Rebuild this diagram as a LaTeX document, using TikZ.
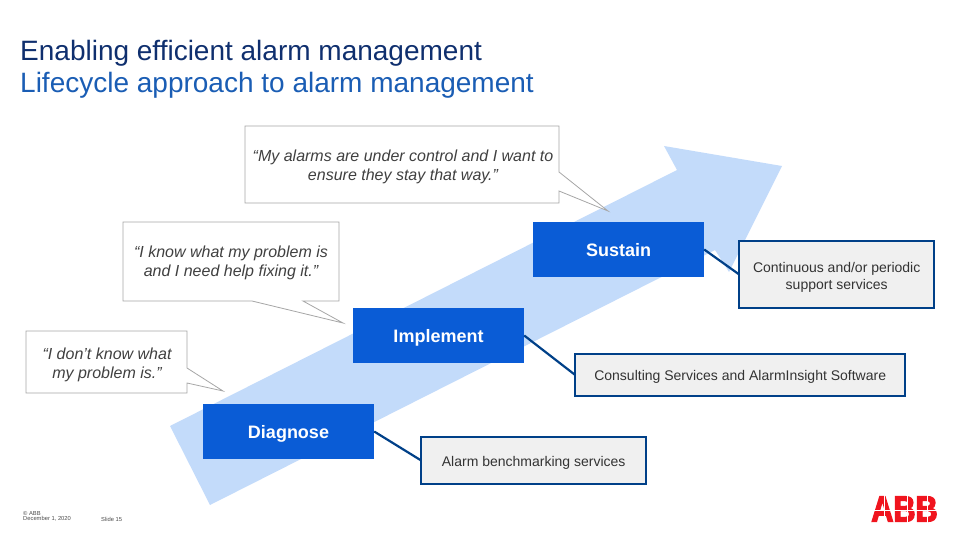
\documentclass[tikz,border=0pt]{standalone}
\usepackage{fontspec}
\setmainfont{Liberation Sans}
\newfontfamily\logofont[BoldFeatures={FakeBold=4}]{Liberation Sans}
\usepackage{xcolor}
\usetikzlibrary{positioning}
\definecolor{abbblue}{HTML}{0A5CD6}
\definecolor{abbnavy}{HTML}{004088}
\definecolor{titlenavy}{HTML}{0F2F6E}
\definecolor{titleblue}{HTML}{1A5DB4}
\definecolor{arrowblue}{HTML}{C3DBFA}
\definecolor{abbred}{HTML}{F0141E}
\definecolor{speechgray}{HTML}{A6A6A6}

\begin{document}
\begin{tikzpicture}[
    x=1pt, y=-1pt,
    etapa/.style={fill=abbblue, text=white, font=\fontsize{18}{21}\selectfont\bfseries,
        minimum width=171pt, minimum height=55pt, inner sep=0pt, text height=16pt, text depth=3pt},
    servico/.style={draw=abbnavy, line width=2.5pt, fill=gray!12, align=center, outer sep=0pt,
        text=black!80, font=\fontsize{14}{17}\selectfont, inner sep=0pt},
    ligacao/.style={draw=abbnavy, line width=2.2pt},
    balao/.style={draw=speechgray, fill=white, line width=0.8pt},
    fala/.style={align=center, text=black!75, font=\fontsize{16}{19}\selectfont\itshape, inner sep=0pt},
    titulo/.style={anchor=west, inner sep=0pt, font=\fontsize{28}{32}\selectfont},
    rodape/.style={anchor=west, inner sep=0pt, text=black!70, font=\fontsize{5.8}{6.5}\selectfont},
    corte/.style={draw=white, line width=0.6pt}
]
    \useasboundingbox (0,0) rectangle (960,540);

    % seta do ciclo de vida
    \fill[arrowblue] (170,426) -- (677,170) -- (664,146) -- (782,166) -- (729,272)
        -- (715,250) -- (210,505) -- cycle;

    \node[titulo, text=titlenavy] (titulo1) at (20,53.5) {Enabling efficient alarm management};
    \node[titulo, text=titleblue] (titulo2) at (20,85.5) {Lifecycle approach to alarm management};

    % baloes
    \draw[balao] (245,126) -- (559,126) -- (559,172) -- (608,211) -- (559,191) -- (559,203)
        -- (245,203) -- cycle;
    \draw[balao] (123,222) -- (339,222) -- (339,301) -- (303,301) -- (343,323) -- (252,301)
        -- (123,301) -- cycle;
    \draw[balao] (26,331) -- (187,331) -- (187,368) -- (223,391) -- (187,383) -- (187,393)
        -- (26,393) -- cycle;
    \node[fala] (falaSustain) at (403,167) {“My alarms are under control and I want to\\ensure they stay that way.”};
    \node[fala] (falaImplement) at (231,263) {“I know what my problem is\\and I need help fixing it.”};
    \node[fala] (falaDiagnose) at (107,364.5) {“I don’t know what\\my problem is.”};

    % etapas
    \node[etapa] (sustain) at (618.5,249.5) {Sustain};
    \node[etapa] (implement) at (438.5,335.5) {Implement};
    \node[etapa] (diagnose) at (288.5,431.5) {Diagnose};

    % servicos
    \node[servico, right=35pt of sustain, yshift=-25pt, minimum width=195pt, minimum height=67pt]
        (continuous) {\rule{0pt}{16pt}Continuous and/or periodic\\support services};
    \node[servico, right=51pt of implement, yshift=-39.5pt, minimum width=330pt, minimum height=42pt,
        text height=14.5pt] (consulting) {Consulting Services and AlarmInsight Software};
    \node[servico, right=47pt of diagnose, yshift=-29pt, minimum width=225pt, minimum height=47pt,
        text height=14.5pt] (benchmark) {Alarm benchmarking services};

    \draw[ligacao] (sustain.east) -- (continuous.west);
    \draw[ligacao] (implement.east) -- (consulting.west);
    \draw[ligacao] (diagnose.east) -- (benchmark.west);

    % rodape
    \node[rodape] (copyright) at (23,513) {© ABB};
    \node[rodape] (data) at (23,519) {December 1, 2020};
    \node[rodape] (slide) at (101,519) {Slide 15};

    % logo
    \node[inner sep=0pt, text=abbred, font=\logofont\fontsize{36}{36}\selectfont\bfseries, xscale=0.85] (logo) at (904.5,509) {ABB};
    \draw[corte] (868,510) -- (940,510);
    \draw[corte] (884,494) -- (884,525);
    \draw[corte] (907,494) -- (907,525);
    \draw[corte] (927,494) -- (927,525);
\end{tikzpicture}
\end{document}
